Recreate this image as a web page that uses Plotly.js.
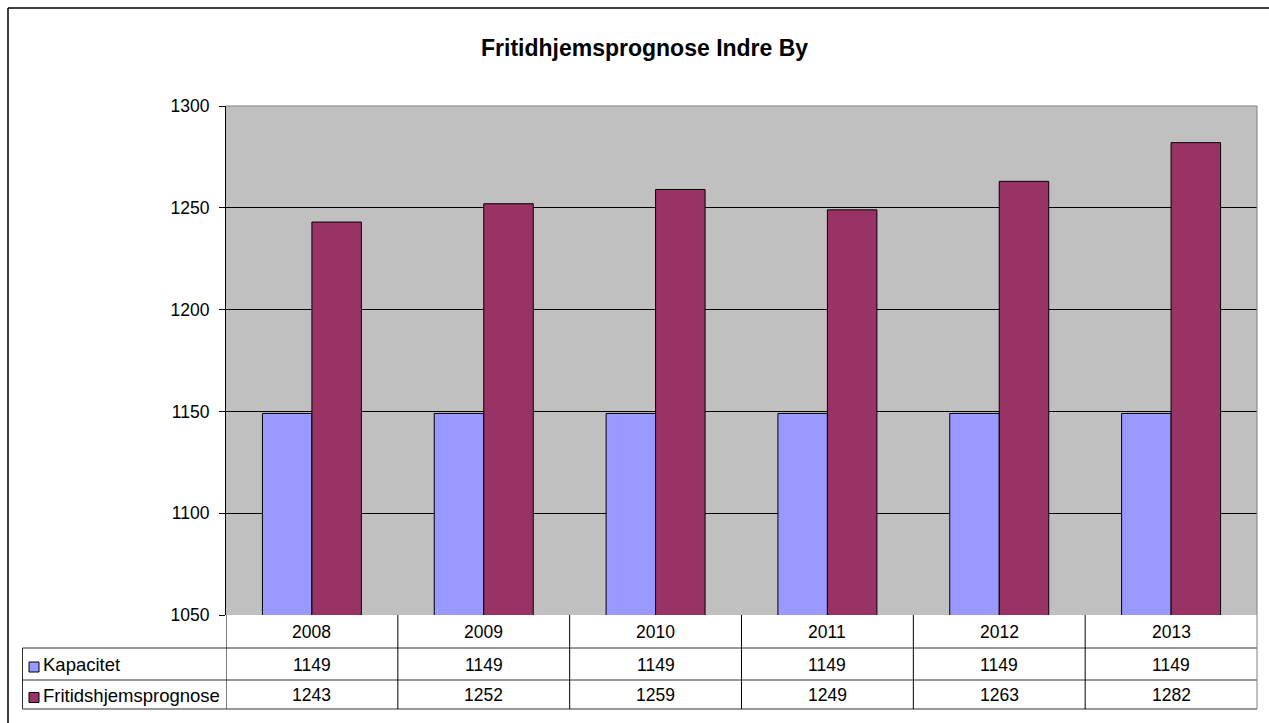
<!DOCTYPE html>
<html>
<head>
<meta charset="utf-8">
<script src="https://cdn.plot.ly/plotly-3.0.1.min.js"></script>
<style>html,body{margin:0;padding:0;background:#fff;}#chart{width:1269px;height:723px;}</style>
</head>
<body>
<div id="chart"></div>
<script>
const chartTitle = "Fritidhjemsprognose Indre By";
const years = ["2008", "2009", "2010", "2011", "2012", "2013"];
const seriesNames = ["Kapacitet", "Fritidshjemsprognose"];
const kapacitet = [1149, 1149, 1149, 1149, 1149, 1149];
const prognose = [1243, 1252, 1259, 1249, 1263, 1282];
const seriesValues = [kapacitet, prognose];
const colors = ["#9999FF", "#993366"];

const W = 1269, H = 723;
const L = 226, R = 12, T = 106, B = 108;
const PW = W - L - R, PH = H - T - B;
const px = p => (p - L) / PW;
const py = p => (H - B - p) / PH;
const font = "Arial, 'Liberation Sans', sans-serif";
const numSize = 17.5, legSize = 18.5, titleSize = 23;

const traces = seriesNames.map((n, i) => ({
  type: "bar", name: n, x: years, y: seriesValues[i],
  marker: {color: colors[i], line: {color: "#000", width: 1}},
  hoverinfo: "skip"
}));

const shapes = [];
const annotations = [];
// outer chart frame (top and left visible)
shapes.push({type: "line", xref: "paper", yref: "paper", x0: px(8), x1: px(W + 20), y0: py(8), y1: py(8), line: {color: "#000", width: 1.5}});
shapes.push({type: "line", xref: "paper", yref: "paper", x0: px(8), x1: px(8), y0: py(8), y1: py(H + 20), line: {color: "#000", width: 1.5}});
// plot area border (gray)
shapes.push({type: "line", xref: "paper", yref: "paper", x0: 0, x1: 1, y0: 1, y1: 1, line: {color: "#808080", width: 1}});
shapes.push({type: "line", xref: "paper", yref: "paper", x0: 1, x1: 1, y0: 0, y1: 1, line: {color: "#808080", width: 1}});

// data table
const rowLines = [648, 680, 709];
const tableLeft = 22.5;
rowLines.forEach(r => shapes.push({type: "line", xref: "paper", yref: "paper", x0: px(tableLeft), x1: 1, y0: py(r), y1: py(r), line: {color: "#333", width: 1}}));
shapes.push({type: "line", xref: "paper", yref: "paper", x0: px(tableLeft), x1: px(tableLeft), y0: py(648), y1: py(709), line: {color: "#333", width: 1}});
for (let i = 0; i <= years.length; i++) {
  const last = i === years.length;
  shapes.push({type: "line", xref: last ? "paper" : "x", yref: "paper", x0: last ? 1 : i - 0.5, x1: last ? 1 : i - 0.5, y0: py(615), y1: py(709), line: {color: last ? "#808080" : "#000", width: 1}});
}
const rowCenters = [632, 664.5, 695];
years.forEach((yr, i) => {
  annotations.push({xref: "x", yref: "paper", x: i, y: py(rowCenters[0]), text: yr, showarrow: false, xanchor: "center", yanchor: "middle", font: {size: numSize, color: "#000", family: font}});
  seriesValues.forEach((vals, s) => {
    annotations.push({xref: "x", yref: "paper", x: i, y: py(rowCenters[s + 1]), text: String(vals[i]), showarrow: false, xanchor: "center", yanchor: "middle", font: {size: numSize, color: "#000", family: font}});
  });
});
seriesNames.forEach((n, s) => {
  const c = [667, 697.5][s];
  shapes.push({type: "rect", xref: "paper", yref: "paper", x0: px(29), x1: px(39), y0: py(c - 5), y1: py(c + 5), fillcolor: colors[s], line: {color: "#000", width: 1}});
  annotations.push({xref: "paper", yref: "paper", x: px(41), y: py(rowCenters[s + 1]), text: n, showarrow: false, xanchor: "left", yanchor: "middle", font: {size: legSize, color: "#000", family: font}});
});
// title
annotations.push({xref: "paper", yref: "paper", x: px(644.5), y: py(48), text: "<b>" + chartTitle + "</b>", showarrow: false, xanchor: "center", yanchor: "middle", font: {size: titleSize, color: "#000", family: font}});

const layout = {
  width: W, height: H,
  margin: {l: L, r: R, t: T, b: B, pad: 0},
  paper_bgcolor: "#fff", plot_bgcolor: "#C0C0C0",
  showlegend: false,
  barmode: "group", bargap: 0.424, bargroupgap: 0,
  font: {family: font, size: numSize, color: "#000"},
  xaxis: {type: "category", range: [-0.5, 5.5], showticklabels: false, ticks: "", showgrid: false, showline: false, zeroline: false, fixedrange: true},
  yaxis: {range: [1050, 1300], dtick: 50, tick0: 1050, ticks: "outside", ticklen: 6, tickcolor: "#000", tickwidth: 1,
    showline: true, linecolor: "#000", linewidth: 1, gridcolor: "#000", gridwidth: 1, zeroline: false,
    tickfont: {size: numSize, color: "#000", family: font}, ticklabelstandoff: 6, fixedrange: true},
  shapes: shapes,
  annotations: annotations
};

Plotly.newPlot("chart", traces, layout, {displayModeBar: false, staticPlot: true});
</script>
</body>
</html>
